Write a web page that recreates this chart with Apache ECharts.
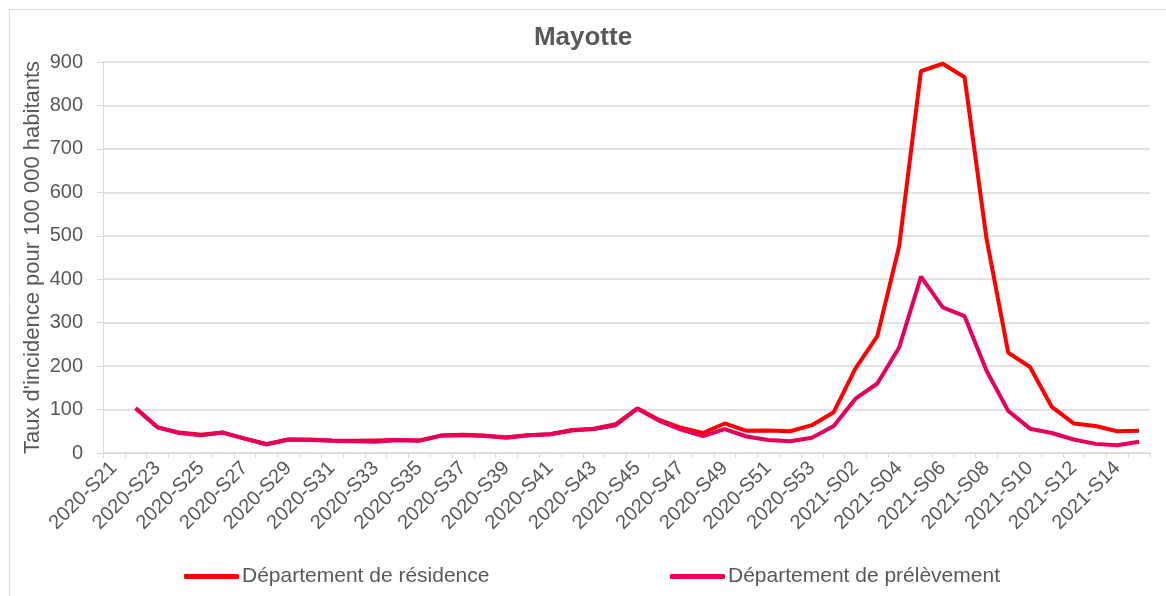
<!DOCTYPE html>
<html>
<head>
<meta charset="utf-8">
<script src="https://cdn.jsdelivr.net/npm/echarts@6/dist/echarts.min.js"></script>
<style>html,body{margin:0;padding:0;background:#fff;}#c{width:1166px;height:596px;}</style>
</head>
<body>
<div id="c"></div>
<script>
const categories = [
  '2020-S21','2020-S22','2020-S23','2020-S24','2020-S25','2020-S26','2020-S27','2020-S28','2020-S29','2020-S30',
  '2020-S31','2020-S32','2020-S33','2020-S34','2020-S35','2020-S36','2020-S37','2020-S38','2020-S39','2020-S40',
  '2020-S41','2020-S42','2020-S43','2020-S44','2020-S45','2020-S46','2020-S47','2020-S48','2020-S49','2020-S50',
  '2020-S51','2020-S52','2020-S53','2021-S01','2021-S02','2021-S03','2021-S04','2021-S05','2021-S06','2021-S07',
  '2021-S08','2021-S09','2021-S10','2021-S11','2021-S12','2021-S13','2021-S14','2021-S15'
];
const residence = [
  null,103,59,47,42,47,33,20,31,31,
  29,28,29,30,29,40,42,40,36,41,
  43,53,56,66,103,76,58,46,68,51,
  52,50,64,94,195,269,476,879,896,865,
  495,231,198,106,68,62,50,51
];
const prelevement = [
  null,103,59,46,41,47,33,20,31,30,
  28,27,26,30,28,40,41,39,35,41,
  43,52,55,64,102,74,54,39,55,38,
  30,27,35,62,125,160,243,406,335,315,
  190,97,56,46,31,21,18,26
];
const yTicks = [0,100,200,300,400,500,600,700,800,900];

const chart = echarts.init(document.getElementById('c'));
const txt = '#595959';
const ff = '"Liberation Sans", Arial, sans-serif';
chart.setOption({
  animation: false,
  backgroundColor: '#fff',
  graphic: [{
    type: 'rect', shape: {x: 9.5, y: 9.5, width: 1200, height: 600},
    style: {fill: 'none', stroke: '#d9d9d9', lineWidth: 1}, silent: true
  }],
  title: {
    text: 'Mayotte', left: 'center', top: 20,
    textStyle: {color: txt, fontFamily: ff, fontSize: 26, fontWeight: 'bold'}
  },
  legend: [
    {data: ['Département de résidence'], left: 184, top: 566, padding: 0, icon: 'roundRect', itemWidth: 55, itemHeight: 5,
     textStyle: {color: txt, fontFamily: ff, fontSize: 21, padding: [0,0,0,-2]}},
    {data: ['Département de prélèvement'], left: 670, top: 566, padding: 0, icon: 'roundRect', itemWidth: 55, itemHeight: 5,
     textStyle: {color: txt, fontFamily: ff, fontSize: 21, padding: [0,0,0,-2]}}
  ],
  grid: {left: 103, right: 16, top: 62, bottom: 143, containLabel: false},
  xAxis: {
    type: 'category', data: categories, boundaryGap: true,
    axisLine: {lineStyle: {color: '#d9d9d9', width: 1}},
    axisTick: {show: true, interval: 0, length: 5, lineStyle: {color: '#d9d9d9'}},
    axisLabel: {interval: 1, rotate: 45, color: txt, fontFamily: ff, fontSize: 20, margin: 12}
  },
  yAxis: {
    type: 'value', min: yTicks[0], max: yTicks[yTicks.length-1], interval: 100,
    name: "Taux d'incidence pour 100 000 habitants", nameLocation: 'middle', nameGap: 59,
    nameMoveOverlap: false,
    nameTextStyle: {color: txt, fontFamily: ff, fontSize: 22},
    axisLine: {show: true, lineStyle: {color: '#d9d9d9'}},
    axisTick: {show: true, length: 6, lineStyle: {color: '#d9d9d9'}},
    axisLabel: {color: txt, fontFamily: ff, fontSize: 20, margin: 20},
    splitLine: {lineStyle: {color: '#d9d9d9', width: 1.5}}
  },
  series: [
    {name: 'Département de résidence', type: 'line', data: residence, symbol: 'none',
     lineStyle: {color: '#ff0000', width: 4}, itemStyle: {color: '#ff0000'}},
    {name: 'Département de prélèvement', type: 'line', data: prelevement, symbol: 'none',
     lineStyle: {color: '#e6005c', width: 4}, itemStyle: {color: '#e6005c'}}
  ]
});
</script>
</body>
</html>
